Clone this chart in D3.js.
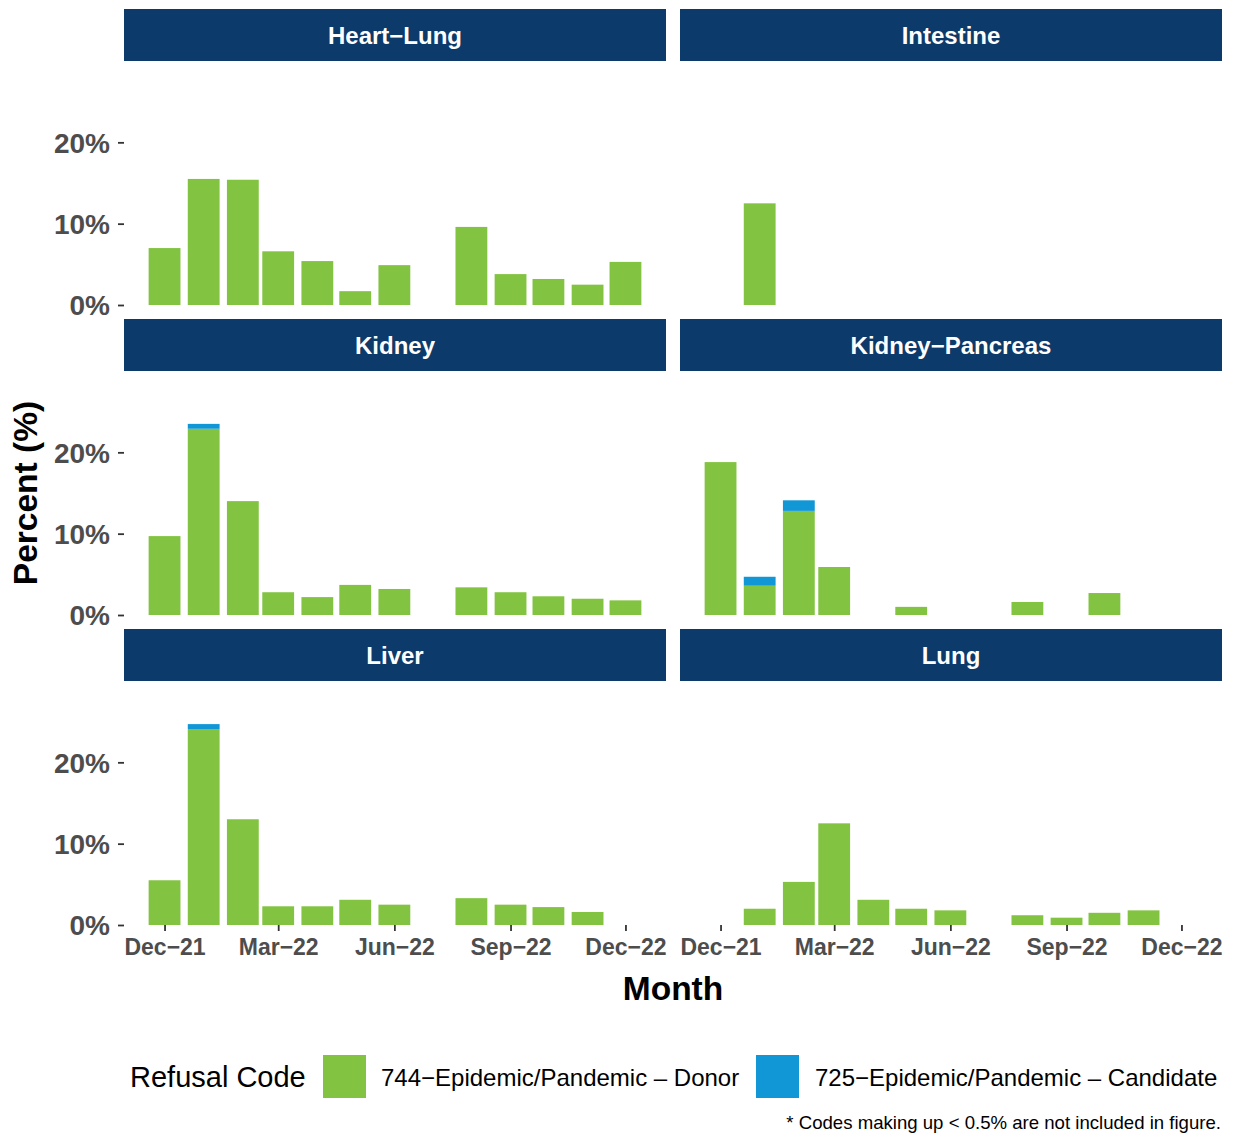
<!DOCTYPE html>
<html>
<head>
<meta charset="utf-8">
<script src="https://cdn.jsdelivr.net/npm/d3@7"></script>
<style>
  html, body { margin: 0; padding: 0; background: #ffffff; }
  svg { display: block; }
  text { font-family: "Liberation Sans", Arial, Helvetica, sans-serif; }
</style>
</head>
<body>
<svg id="chart" width="1233" height="1138"></svg>
<script>
// ---------------- DATA ----------------
const months = ["2021-12-01","2022-01-01","2022-02-01","2022-03-01","2022-04-01","2022-05-01",
                "2022-06-01","2022-07-01","2022-08-01","2022-09-01","2022-10-01","2022-11-01","2022-12-01"];
const panels = ["Heart\u2212Lung","Intestine","Kidney","Kidney\u2212Pancreas","Liver","Lung"];
const seriesNames = ["744\u2212Epidemic/Pandemic \u2013 Donor","725\u2212Epidemic/Pandemic \u2013 Candidate"];

// 744 - Donor (percent), null = no bar
const heartLungDonor      = [7.0, 15.5, 15.4, 6.6, 5.4, 1.7, 4.9, null, 9.6, 3.8, 3.2, 2.5, 5.3];
const intestineDonor      = [null, 12.5, null, null, null, null, null, null, null, null, null, null, null];
const kidneyDonor         = [9.7, 22.9, 14.0, 2.8, 2.2, 3.7, 3.2, null, 3.4, 2.8, 2.3, 2.0, 1.8];
const kidneyPancreasDonor = [18.8, 3.6, 12.8, 5.9, null, 1.0, null, null, 1.6, null, 2.7, null, null];
const liverDonor          = [5.5, 24.1, 13.0, 2.3, 2.3, 3.1, 2.5, null, 3.3, 2.5, 2.2, 1.6, null];
const lungDonor           = [null, 2.0, 5.3, 12.5, 3.1, 2.0, 1.8, null, 1.2, 0.9, 1.5, 1.8, null];

// 725 - Candidate (percent)
const heartLungCandidate      = [null, null, null, null, null, null, null, null, null, null, null, null, null];
const intestineCandidate      = [null, null, null, null, null, null, null, null, null, null, null, null, null];
const kidneyCandidate         = [null, 0.6, null, null, null, null, null, null, null, null, null, null, null];
const kidneyPancreasCandidate = [null, 1.1, 1.3, null, null, null, null, null, null, null, null, null, null];
const liverCandidate          = [null, 0.6, null, null, null, null, null, null, null, null, null, null, null];
const lungCandidate           = [null, null, null, null, null, null, null, null, null, null, null, null, null];

const xTickDates  = ["2021-12-01","2022-03-01","2022-06-01","2022-09-01","2022-12-01"];
const xTickLabels = ["Dec\u221221","Mar\u221222","Jun\u221222","Sep\u221222","Dec\u221222"];
const yTicks      = [0, 10, 20];
const yTickLabels = ["0%", "10%", "20%"];

// ---------------- BUILD ----------------
const donorByPanel = [heartLungDonor, intestineDonor, kidneyDonor, kidneyPancreasDonor, liverDonor, lungDonor];
const candByPanel  = [heartLungCandidate, intestineCandidate, kidneyCandidate, kidneyPancreasCandidate, liverCandidate, lungCandidate];
const colors = ["#82C341", "#1197D6"];
const stripFill = "#0C3A6A";

const parse = d3.utcParse("%Y-%m-%d");
const monthDates = months.map(parse);
const DAY = 864e5;

const svg = d3.select("#chart");

const panelW = 542, panelH = 244, stripH = 52;
const colX = [124, 680];
const rowStripTop = [9, 319, 629];

// x scale: dates (ggplot-like expansion)
const barDays = 0.9 * 28;
const dataMin = +monthDates[0] - barDays / 2 * DAY;
const dataMax = +monthDates[monthDates.length - 1] + barDays / 2 * DAY;
const expand = (dataMax - dataMin) * 0.05;
const x = d3.scaleUtc()
  .domain([new Date(dataMin - expand), new Date(dataMax + expand)])
  .range([0, panelW]);
const barW = x(new Date(+monthDates[0] + barDays * DAY)) - x(monthDates[0]);

const y = d3.scaleLinear().domain([0, 30]).range([panelH, 0]);

panels.forEach((name, pi) => {
  const col = pi % 2, row = Math.floor(pi / 2);
  const px = colX[col];
  const sTop = rowStripTop[row];
  const pTop = sTop + stripH;

  // strip
  const strip = svg.append("g").attr("transform", `translate(${px},${sTop})`);
  strip.append("rect").attr("width", panelW).attr("height", stripH).attr("fill", stripFill);
  strip.append("text")
    .attr("x", panelW / 2).attr("y", stripH / 2 + 8.6)
    .attr("text-anchor", "middle")
    .attr("fill", "#ffffff")
    .attr("font-weight", "bold")
    .attr("font-size", 24)
    .text(name);

  const g = svg.append("g").attr("transform", `translate(${px},${pTop})`);

  // stacked bars
  const recs = [];
  monthDates.forEach((d, i) => {
    const dv = donorByPanel[pi][i];
    const cv = candByPanel[pi][i];
    let base = 0;
    if (dv != null) { recs.push({ d, y0: 0, y1: dv, s: 0 }); base = dv; }
    if (cv != null) { recs.push({ d, y0: base, y1: base + cv, s: 1 }); }
  });
  g.selectAll("rect.bar").data(recs).join("rect")
    .attr("class", "bar")
    .attr("x", r => x(r.d) - barW / 2)
    .attr("width", barW)
    .attr("y", r => y(r.y1))
    .attr("height", r => y(r.y0) - y(r.y1))
    .attr("fill", r => colors[r.s]);

  // y axis on left column
  if (col === 0) {
    const ya = g.append("g").call(
      d3.axisLeft(y).tickValues(yTicks).tickFormat((d, i) => yTickLabels[i])
        .tickSize(6).tickPadding(8));
    ya.select(".domain").remove();
    ya.selectAll(".tick line").attr("stroke", "#333333").attr("stroke-width", 1.8);
    ya.selectAll(".tick text")
      .attr("fill", "#4D4D4D").attr("font-size", 28).attr("font-weight", "bold")
      .attr("font-family", "Liberation Sans, Arial, sans-serif")
      .attr("dy", "0.35em");
  }

  // x axis on bottom row
  if (row === 2) {
    const xa = g.append("g").attr("transform", `translate(0,${panelH})`).call(
      d3.axisBottom(x).tickValues(xTickDates.map(parse)).tickFormat((d, i) => xTickLabels[i])
        .tickSize(6).tickPadding(8));
    xa.select(".domain").remove();
    xa.selectAll(".tick line").attr("stroke", "#333333").attr("stroke-width", 1.8);
    xa.selectAll(".tick text")
      .attr("fill", "#4D4D4D").attr("font-size", 23).attr("font-weight", "bold")
      .attr("font-family", "Liberation Sans, Arial, sans-serif");
  }
});

// axis titles
svg.append("text")
  .attr("transform", "translate(37,493) rotate(-90)")
  .attr("text-anchor", "middle")
  .attr("font-size", 33.5).attr("font-weight", "bold").attr("fill", "#000")
  .text("Percent (%)");
svg.append("text")
  .attr("x", 673).attr("y", 1000)
  .attr("text-anchor", "middle")
  .attr("font-size", 33.5).attr("font-weight", "bold").attr("fill", "#000")
  .text("Month");

// legend
const leg = svg.append("g");
leg.append("text").attr("x", 130).attr("y", 1087).attr("font-size", 29).attr("fill", "#000")
  .text("Refusal Code");
const keyX = [323, 756], labX = [381, 815];
seriesNames.forEach((s, i) => {
  leg.append("rect").attr("x", keyX[i]).attr("y", 1055).attr("width", 43).attr("height", 43).attr("fill", colors[i]);
  leg.append("text").attr("x", labX[i]).attr("y", 1086).attr("font-size", 24).attr("fill", "#000").text(s);
});

// caption
svg.append("text")
  .attr("x", 1221).attr("y", 1129)
  .attr("text-anchor", "end")
  .attr("font-size", 18.6).attr("fill", "#000")
  .text("* Codes making up < 0.5% are not included in figure.");
</script>
</body>
</html>
